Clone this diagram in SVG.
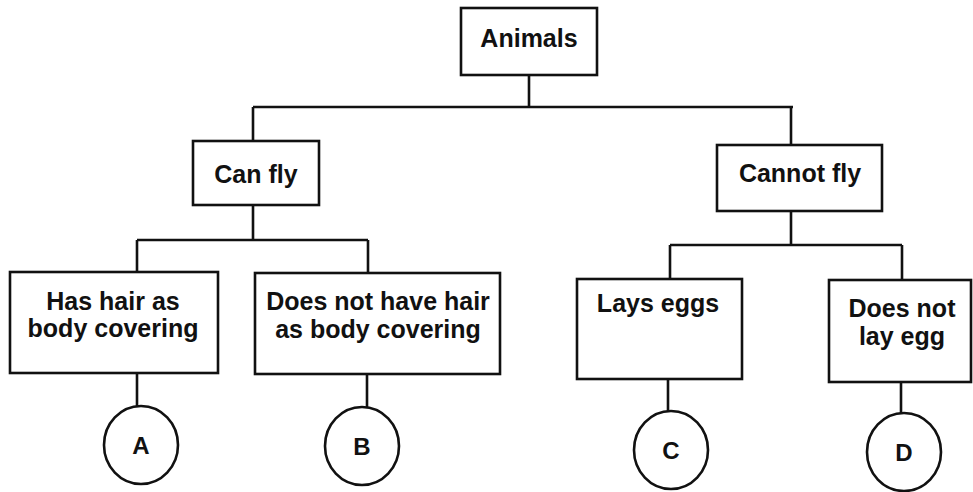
<svg xmlns="http://www.w3.org/2000/svg" width="973" height="492" viewBox="0 0 973 492">
<style>
.box{fill:#fff;stroke:#111;stroke-width:2.6}
.ln{fill:none;stroke:#111;stroke-width:2.6}
.t{font-family:"Liberation Sans",Arial,sans-serif;font-weight:bold;font-size:25px;fill:#111;text-anchor:middle}
.c{font-size:24px}
</style>
<rect width="973" height="492" fill="#fff"/>
<g id="connectors">
<path class="ln" d="M529,75 V107 M253,107 H793 M253,107 V141 M791,107 V145"/>
<path class="ln" d="M253,205 V240 M137,240 H368 M137,240 V272 M368,240 V273"/>
<path class="ln" d="M791,211 V245 M670,245 H902 M670,245 V279 M902,245 V280"/>
<path class="ln" d="M137,373 V406 M367,374 V407 M668,379 V411 M901,382 V413"/>
</g>
<g id="animals"><rect class="box" x="461" y="8" width="136" height="67"/><text class="t" x="529" y="47">Animals</text></g>
<g id="canfly"><rect class="box" x="193" y="141" width="126" height="64"/><text class="t" x="256" y="183">Can fly</text></g>
<g id="cannotfly"><rect class="box" x="717" y="145" width="165" height="66"/><text class="t" x="800" y="182">Cannot fly</text></g>
<g id="hashair"><rect class="box" x="10" y="272" width="208" height="101"/><text class="t" x="113" y="310">Has hair as</text><text class="t" x="113" y="337">body covering</text></g>
<g id="nohair"><rect class="box" x="255" y="273" width="245" height="101"/><text class="t" x="378" y="310">Does not have hair</text><text class="t" x="378" y="338">as body covering</text></g>
<g id="layseggs"><rect class="box" x="577" y="279" width="165" height="100"/><text class="t" x="658" y="312">Lays eggs</text></g>
<g id="nolay"><rect class="box" x="829" y="280" width="142" height="102"/><text class="t" x="902" y="317">Does not</text><text class="t" x="902" y="345">lay egg</text></g>
<g id="A"><ellipse class="box" cx="141" cy="445" rx="37" ry="39"/><text class="t c" x="141" y="454">A</text></g>
<g id="B"><ellipse class="box" cx="362" cy="446" rx="37" ry="39"/><text class="t c" x="362" y="455">B</text></g>
<g id="C"><ellipse class="box" cx="671" cy="450" rx="37" ry="39"/><text class="t c" x="671" y="459">C</text></g>
<g id="D"><ellipse class="box" cx="904" cy="452" rx="37" ry="39"/><text class="t c" x="904" y="461">D</text></g>
</svg>
